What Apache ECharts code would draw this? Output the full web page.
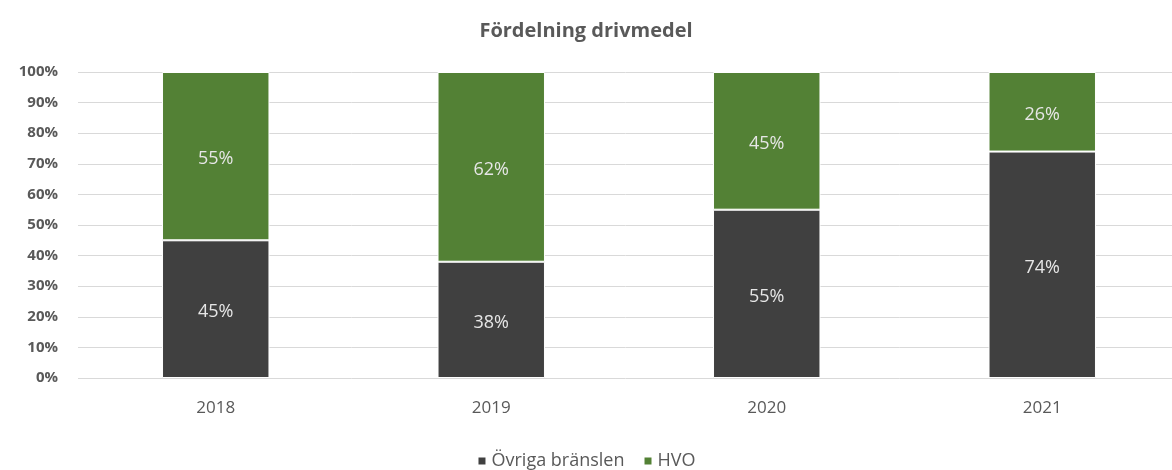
<!DOCTYPE html>
<html>
<head>
<meta charset="utf-8">
<script src="https://cdn.jsdelivr.net/npm/echarts@6/dist/echarts.min.js"></script>
<style>
  html, body { margin: 0; padding: 0; background: #fff; }
  #chart { width: 1172px; height: 470px; }
</style>
</head>
<body>
<div id="chart"></div>
<script>
// data
const years = ['2018', '2019', '2020', '2021'];
const ovriga = [45, 38, 55, 74];
const hvo = [55, 62, 45, 26];

const font = '"Open Sans", "DejaVu Sans", sans-serif';

let myChart = echarts.init(document.getElementById('chart'));
myChart.setOption({
  animation: false,
  title: {
    text: 'Fördelning drivmedel',
    left: 'center',
    top: 16,
    textStyle: { fontFamily: font, fontSize: 20, fontWeight: 'bold', color: '#595959' }
  },
  legend: {
    top: 447,
    left: 'center',
    itemWidth: 9,
    itemHeight: 9,
    itemGap: 18,
    icon: 'rect',
    textStyle: { fontFamily: font, fontSize: 18, color: '#595959' },
    data: ['Övriga bränslen', 'HVO']
  },
  grid: { left: 78, top: 72, width: 1102, height: 306, outerBoundsMode: 'none' },
  xAxis: {
    type: 'category',
    data: years,
    axisLine: { show: false },
    axisTick: { show: false },
    axisLabel: { fontFamily: font, fontSize: 17, color: '#595959', margin: 22 }
  },
  yAxis: {
    type: 'value',
    min: 0,
    max: 100,
    interval: 10,
    axisLabel: { formatter: '{value}%', fontFamily: font, fontSize: 15, fontWeight: 'bold', color: '#595959', margin: 20 },
    axisLine: { show: false },
    axisTick: { show: false },
    splitLine: { lineStyle: { color: '#d9d9d9', width: 1 } }
  },
  series: [
    {
      name: 'Övriga bränslen',
      type: 'bar',
      stack: 'total',
      barWidth: '39%',
      data: ovriga,
      itemStyle: { color: '#404040', borderColor: '#fff', borderWidth: 1 },
      label: { show: true, formatter: '{c}%', color: '#e6e6e6', fontFamily: font, fontSize: 18, offset: [0, 3] }
    },
    {
      name: 'HVO',
      type: 'bar',
      stack: 'total',
      data: hvo,
      itemStyle: { color: '#538135', borderColor: '#fff', borderWidth: 1 },
      label: { show: true, formatter: '{c}%', color: '#e6e6e6', fontFamily: font, fontSize: 18, offset: [0, 3] }
    }
  ]
});
</script>
</body>
</html>
